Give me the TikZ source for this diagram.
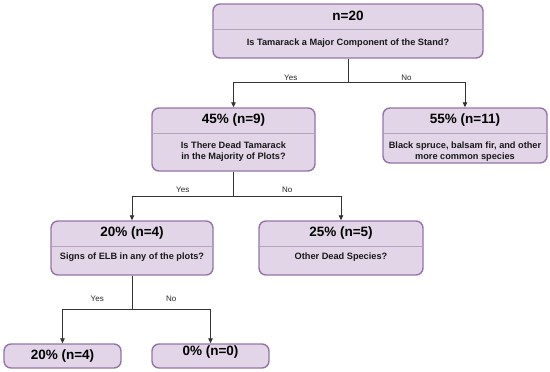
\documentclass[tikz,border=0pt]{standalone}
\usepackage{fontspec}
\setmainfont{Liberation Sans}
\usetikzlibrary{positioning, calc, arrows.meta}
\definecolor{boxfill}{HTML}{E1D5E7}
\definecolor{boxline}{HTML}{9673A6}
\definecolor{splitline}{HTML}{B3A3BD}
\definecolor{linkgray}{HTML}{333333}

\begin{document}
\begin{tikzpicture}[
		x=1pt, y=-1pt,
		>={Triangle[length=5pt, width=4.5pt]},
		card/.style={
			draw=boxline, line width=1.4pt, fill=boxfill, rounded corners=7pt,
			inner sep=0pt
		},
		header/.style={font=\bfseries\fontsize{13.5}{16}\selectfont, text=black},
		question/.style={font=\bfseries\fontsize{9.2}{10.6}\selectfont, align=center, text=black!90},
		split/.style={draw=splitline, line width=0.6pt},
		link/.style={draw=linkgray, line width=0.8pt},
		answer/.style={font=\fontsize{8}{10}\selectfont, text=black!85, above, inner sep=2pt}
		]
		
		\useasboundingbox (0,0) rectangle (550,372);
		
		% ==========================================
		% LEVEL 0: Whole sample
		% ==========================================
		
		\node[card, minimum width=270pt, minimum height=54pt] (root) at (348,31) {};
		\draw[split] (root.west |- 0,29) -- (root.east |- 0,29);
		\node[header] (rootT) at (348,16) {n=20};
		\node[question] (rootQ) at (348,43) {Is Tamarack a Major Component of the Stand?};
		
		% ==========================================
		% LEVEL 1: Tamarack or not
		% ==========================================
		
		% Tamarack stands
		\node[card, minimum width=163pt, minimum height=63pt] (tamarack) at (233.5,139.5) {};
		\draw[split] (tamarack.west |- 0,133) -- (tamarack.east |- 0,133);
		\node[header] (tamarackT) at (233.5,120.5) {45\% (n=9)};
		\node[question] (tamarackQ) at (233.5,151.5) {Is There Dead Tamarack\\ in the Majority of Plots?};
		
		% Other stands
		\node[card, minimum width=164pt, minimum height=55pt] (common) at (465,135.5) {};
		\draw[split] (common.west |- 0,133) -- (common.east |- 0,133);
		\node[header] (commonT) at (465,120.5) {55\% (n=11)};
		\node[question] (commonQ) at (465,151.5) {Black spruce, balsam fir, and other\\ more common species};
		
		% Branches
		\coordinate (fork1) at ($(root.south)+(0,24)$);
		\draw[link] (root.south) -- (fork1);
		\draw[link, ->] (fork1) -| node[answer, pos=0.25] {Yes} (tamarack.north);
		\draw[link, ->] (fork1) -| node[answer, pos=0.25] {No} (common.north);
		
		% ==========================================
		% LEVEL 2: Dead tamarack or other dead
		% ==========================================
		
		\node[card, minimum width=162pt, minimum height=54pt] (elbq) at (132,248) {};
		\draw[split] (elbq.west |- 0,246) -- (elbq.east |- 0,246);
		\node[header] (elbqT) at (132,233) {20\% (n=4)};
		\node[question] (elbqQ) at (132,257.5) {Signs of ELB in any of the plots?};
		
		\node[card, minimum width=164pt, minimum height=54pt] (otherdead) at (341,248) {};
		\draw[split] (otherdead.west |- 0,246) -- (otherdead.east |- 0,246);
		\node[header] (otherdeadT) at (341,233) {25\% (n=5)};
		\node[question] (otherdeadQ) at (341,257.5) {Other Dead Species?};
		
		% Branches
		\coordinate (fork2) at ($(tamarack.south)+(0,25)$);
		\draw[link] (tamarack.south) -- (fork2);
		\draw[link, ->] (fork2) -| node[answer, pos=0.25, yshift=2pt] {Yes} (elbq.north);
		\draw[link, ->] (fork2) -| node[answer, pos=0.25, yshift=2pt] {No} (otherdead.north);
		
		% ==========================================
		% LEVEL 3: ELB signs
		% ==========================================
		
		\node[card, minimum width=117pt, minimum height=24pt] (elbyes) at (62.5,356) {};
		\node[header] (elbyesT) at (62.5,356) {20\% (n=4)};
		
		\node[card, minimum width=117pt, minimum height=24pt] (elbno) at (210.5,356) {};
		\node[header] (elbnoT) at (210.5,352.5) {0\% (n=0)};
		
		% Branches
		\coordinate (fork3) at ($(elbq.south)+(0,34)$);
		\draw[link] (elbq.south) -- (fork3);
		\draw[link, ->] (fork3) -| node[answer, pos=0.25, yshift=6pt] {Yes} (elbyes.north);
		\draw[link, ->] (fork3) -| node[answer, pos=0.25, yshift=6pt] {No} (elbno.north);
		
	\end{tikzpicture}
\end{document}
